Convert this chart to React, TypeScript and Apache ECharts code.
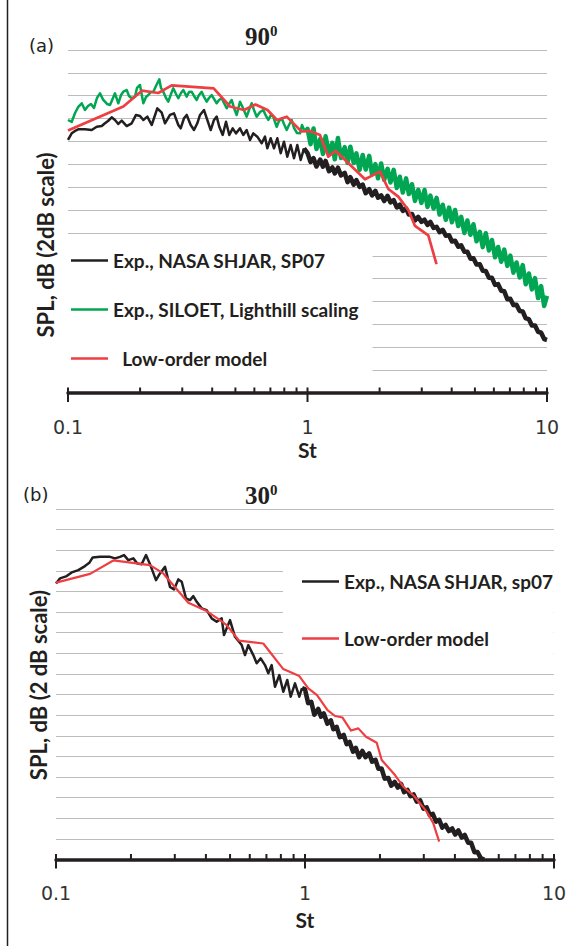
import React, { useEffect, useRef } from 'react';
import * as echarts from 'echarts';

// Strouhal sample positions used for the dense (high-St) parts of the spectra
const stGrid = [1.00, 1.03, 1.06, 1.09, 1.13, 1.16, 1.19, 1.23, 1.27, 1.30, 1.34, 1.38, 1.43, 1.47, 1.51, 1.56, 1.60, 1.65, 1.70, 1.75, 1.81, 1.86, 1.92, 1.97, 2.03, 2.09, 2.16, 2.22, 2.29, 2.36, 2.43, 2.50, 2.58, 2.65, 2.73, 2.81, 2.90, 2.99, 3.08, 3.17, 3.26, 3.36, 3.46, 3.56, 3.67, 3.78, 3.90, 4.01, 4.13, 4.26, 4.38, 4.52, 4.65, 4.79, 4.93, 5.08, 5.24, 5.39, 5.55, 5.72, 5.89, 6.07, 6.25, 6.44, 6.63, 6.83, 7.03, 7.24, 7.46, 7.69, 7.92, 8.15, 8.40, 8.65, 8.91, 9.18, 9.45, 9.73, 10.0];

// ---- Panel (a) 90 deg ----
const blackTopLow = [[0.1000, 22.13], [0.1036, 22.71], [0.1070, 22.92], [0.1104, 23.06], [0.1177, 23.06], [0.1256, 23.00], [0.1318, 23.29], [0.1383, 23.35], [0.1427, 23.59], [0.1469, 23.79], [0.1522, 24.11], [0.1571, 23.88], [0.1622, 23.53], [0.1676, 23.82], [0.1758, 23.35], [0.1845, 23.59], [0.1923, 24.32], [0.1998, 24.23], [0.2063, 23.88], [0.2144, 24.17], [0.2236, 23.44], [0.2360, 24.90], [0.2462, 24.52], [0.2541, 23.59], [0.2666, 24.32], [0.2771, 24.46], [0.2888, 23.44], [0.2955, 23.15], [0.3050, 24.03], [0.3131, 24.32], [0.3253, 23.44], [0.3358, 23.00], [0.3466, 23.59], [0.3558, 24.32], [0.3697, 24.75], [0.3816, 23.88], [0.3943, 23.00], [0.4070, 23.88], [0.4177, 24.17], [0.4283, 23.29], [0.4425, 22.57], [0.4568, 23.73], [0.4715, 22.57], [0.4871, 23.15], [0.5028, 22.71], [0.5225, 23.15], [0.5394, 22.57], [0.5573, 23.00], [0.5753, 22.13], [0.5938, 22.71], [0.6171, 22.42], [0.6438, 21.84], [0.6646, 22.42], [0.6794, 21.40], [0.7020, 22.28], [0.7246, 21.40], [0.7480, 22.28], [0.7729, 20.97], [0.7977, 21.98], [0.8234, 20.67], [0.8507, 21.69], [0.8782, 20.53], [0.9065, 21.69], [0.9367, 20.38], [0.9669, 21.40]];
const blackTopHi = [20.99, 20.21, 20.53, 19.81, 20.41, 19.80, 20.29, 19.40, 19.72, 19.20, 19.70, 19.04, 19.25, 18.44, 18.87, 18.22, 18.62, 18.03, 18.22, 17.48, 17.82, 17.29, 17.68, 17.08, 17.29, 16.79, 17.24, 16.68, 16.86, 16.23, 16.47, 15.93, 16.15, 15.61, 15.66, 15.09, 15.40, 14.97, 15.15, 14.70, 14.96, 14.44, 14.53, 14.07, 14.27, 13.76, 13.79, 13.25, 13.32, 12.80, 12.92, 12.35, 12.36, 11.75, 11.78, 11.24, 11.26, 10.70, 10.67, 10.09, 10.07, 9.46, 9.52, 8.95, 8.89, 8.20, 8.23, 7.69, 7.71, 7.17, 7.13, 6.53, 6.46, 5.91, 5.90, 5.36, 5.27, 4.72, 4.64];
const greenTopLow = [[0.1000, 23.88], [0.1036, 23.70], [0.1070, 24.49], [0.1104, 25.02], [0.1141, 25.34], [0.1177, 24.75], [0.1212, 25.10], [0.1247, 25.28], [0.1284, 24.93], [0.1321, 25.80], [0.1360, 26.21], [0.1404, 25.63], [0.1455, 25.28], [0.1498, 25.19], [0.1541, 25.80], [0.1571, 26.21], [0.1622, 25.34], [0.1665, 26.06], [0.1702, 26.35], [0.1758, 26.50], [0.1798, 25.98], [0.1845, 25.78], [0.1905, 25.92], [0.1941, 26.68], [0.1998, 26.94], [0.2063, 25.34], [0.2117, 25.89], [0.2164, 26.06], [0.2221, 26.33], [0.2271, 26.35], [0.2330, 26.85], [0.2406, 27.44], [0.2445, 26.68], [0.2500, 26.35], [0.2566, 25.80], [0.2623, 25.48], [0.2692, 26.15], [0.2752, 26.65], [0.2825, 26.15], [0.2888, 25.78], [0.2964, 26.24], [0.3030, 26.50], [0.3131, 25.92], [0.3201, 26.33], [0.3285, 26.35], [0.3358, 25.98], [0.3446, 25.63], [0.3523, 26.06], [0.3616, 26.35], [0.3697, 25.89], [0.3794, 25.48], [0.3879, 25.80], [0.3981, 26.06], [0.4070, 25.72], [0.4177, 25.34], [0.4271, 25.63], [0.4383, 25.78], [0.4481, 25.37], [0.4598, 24.90], [0.4701, 25.28], [0.4825, 25.63], [0.4932, 24.93], [0.5062, 24.32], [0.5225, 25.48], [0.5378, 24.93], [0.5573, 24.17], [0.5698, 24.75], [0.5847, 25.34], [0.5978, 24.75], [0.6135, 24.17], [0.6333, 24.58], [0.6538, 24.75], [0.6710, 24.23], [0.6860, 23.88], [0.7040, 24.32], [0.7198, 24.17], [0.7316, 23.70], [0.7437, 23.29], [0.7603, 23.79], [0.7803, 24.03], [0.7977, 23.53], [0.8187, 23.00], [0.8370, 23.44], [0.8590, 23.88], [0.8782, 23.18], [0.9039, 22.74], [0.9304, 22.71], [0.9484, 23.44], [0.9762, 22.83]];
const greenTopHi = [23.11, 21.77, 23.13, 21.34, 22.22, 20.91, 22.45, 20.96, 21.88, 20.44, 22.30, 20.56, 21.50, 20.12, 21.54, 20.11, 20.96, 19.53, 20.82, 19.54, 20.74, 19.12, 20.02, 18.78, 20.08, 18.65, 19.61, 18.41, 19.52, 17.93, 18.91, 17.54, 18.77, 17.40, 18.26, 16.80, 17.77, 16.63, 17.76, 16.27, 17.26, 16.13, 17.07, 15.61, 16.47, 15.14, 16.22, 14.93, 16.01, 14.61, 15.41, 14.00, 15.09, 13.84, 14.76, 13.27, 14.10, 12.76, 13.98, 12.47, 13.38, 11.87, 12.77, 11.48, 12.54, 11.12, 12.02, 10.52, 11.42, 10.10, 11.19, 9.51, 10.45, 9.06, 10.05, 8.30, 9.35, 7.61, 8.50];
const redTop = [[0.1000, 22.96], [0.1702, 25.06], [0.2037, 26.44], [0.2383, 26.24], [0.2710, 26.90], [0.4058, 26.65], [0.4747, 25.06], [0.5430, 24.75], [0.6065, 25.23], [0.6807, 24.75], [0.7458, 23.88], [0.8187, 24.17], [0.9439, 22.87], [1.0243, 22.92], [1.1276, 22.57], [1.2216, 20.67], [1.3091, 21.19], [1.7381, 18.69], [2.0078, 19.36], [2.1749, 17.84], [2.3934, 17.17], [2.6360, 16.01], [2.8106, 14.61], [3.1942, 13.78], [3.4560, 11.28]];

// ---- Panel (b) 30 deg ----
const blackBottomLow = [[0.1000, 26.78], [0.1038, 27.27], [0.1104, 27.49], [0.1156, 27.85], [0.1229, 28.07], [0.1307, 28.46], [0.1361, 28.78], [0.1404, 29.30], [0.1502, 29.36], [0.1648, 29.36], [0.1726, 29.21], [0.1807, 29.36], [0.1876, 29.53], [0.1952, 29.04], [0.2044, 29.21], [0.2121, 28.72], [0.2209, 28.65], [0.2299, 29.53], [0.2385, 28.65], [0.2521, 27.10], [0.2616, 27.75], [0.2740, 28.39], [0.2870, 26.45], [0.2978, 26.20], [0.3099, 27.17], [0.3198, 26.94], [0.3327, 25.33], [0.3453, 25.16], [0.3560, 25.55], [0.3674, 25.00], [0.3847, 24.36], [0.4028, 24.19], [0.4219, 23.39], [0.4418, 23.06], [0.4628, 23.39], [0.4728, 21.77], [0.4998, 23.22], [0.5234, 21.60], [0.5569, 20.80], [0.5741, 19.83], [0.5919, 20.80], [0.6199, 19.83], [0.6397, 19.03], [0.6638, 19.51], [0.6908, 18.86], [0.7122, 18.06], [0.7350, 18.86], [0.7577, 16.76], [0.7884, 17.89], [0.8181, 16.27], [0.8489, 17.41], [0.8760, 15.79], [0.9117, 17.09], [0.9486, 15.79], [0.9726, 16.63]];
const blackBottomHi = [16.50, 15.17, 15.28, 14.05, 14.60, 13.86, 14.17, 13.18, 13.49, 12.64, 12.86, 11.87, 12.08, 11.19, 11.40, 10.46, 10.82, 9.93, 10.53, 9.93, 10.29, 9.49, 9.66, 8.82, 8.83, 7.85, 7.91, 7.17, 7.52, 6.98, 7.33, 6.54, 6.75, 6.15, 6.31, 5.62, 5.73, 4.94, 5.05, 4.31, 4.42, 3.68, 3.84, 3.10, 3.35, 2.76, 3.01, 2.42, 2.82, 2.13, 2.38, 1.64, 1.61, 0.72, 0.73, 0.14, 0];
const redBottom = [[0.1000, 26.86], [0.1370, 27.71], [0.1699, 29.01], [0.2385, 28.56], [0.2697, 27.75], [0.3399, 24.90], [0.4028, 24.10], [0.4556, 23.22], [0.4847, 22.74], [0.5431, 21.24], [0.6800, 20.95], [0.8181, 18.47], [0.9486, 17.79], [1.0310, 16.60], [1.1173, 15.95], [1.2315, 14.50], [1.3199, 13.92], [1.4147, 13.77], [1.5302, 12.51], [1.6372, 12.72], [1.7579, 11.91], [1.9410, 11.33], [2.0326, 9.65], [2.2980, 8.19], [2.4818, 7.06], [2.7400, 6.16], [3.0816, 4.64], [3.2750, 3.51], [3.4587, 1.73]];

// axis ticks (St)
const majorTicks = [0.1, 1, 10];
const minorTicks = [0.2, 0.3, 0.4, 0.5, 0.6, 0.7, 0.8, 0.9, 2, 3, 4, 5, 6, 7, 8, 9];

const topNames = ['Exp., NASA SHJAR, SP07', 'Exp., SILOET, Lighthill scaling', 'Low-order model'];
const bottomNames = ['Exp., NASA SHJAR, sp07', 'Low-order model'];

const BLACK = '#231f20';
const GREEN = '#00a651';
const RED = '#ef3e42';

// dense part: starts at the last sparse point so the curve is continuous
function denseSeg(low: number[][], hi: number[]) {
  return [low[low.length - 1], ...hi.map((v, i) => [stGrid[i], v])];
}

function lineSeries(name: string, idx: number, data: number[][], color: string, width: number, z: number) {
  return {
    name, type: 'line', xAxisIndex: idx, yAxisIndex: idx, data, color,
    showSymbol: false, symbol: 'none', lineStyle: { width, color, join: 'round' }, z,
  };
}

function tickSeries(idx: number) {
  return {
    type: 'custom',
    xAxisIndex: idx,
    yAxisIndex: idx,
    clip: false,
    silent: true,
    z: 6,
    data: [...majorTicks.map((v) => [v, 1]), ...minorTicks.map((v) => [v, 0])],
    renderItem: (_p: any, api: any) => {
      const pt = api.coord([api.value(0), 0]);
      const major = api.value(1) === 1;
      return {
        type: 'line',
        shape: { x1: pt[0], y1: pt[1] - 5.5, x2: pt[0], y2: major ? pt[1] + 9 : pt[1] },
        style: { stroke: BLACK, lineWidth: 2 },
      };
    },
  };
}

const xAxisBase = {
  type: 'log',
  logBase: 10,
  min: 0.1,
  max: 10,
  axisLine: { show: true, lineStyle: { color: BLACK, width: 3.5 } },
  axisTick: { show: false },
  minorTick: { show: false },
  splitLine: { show: false },
  axisLabel: { color: '#333', fontFamily: 'DejaVu Sans', fontSize: 19, margin: 24, formatter: (v: number) => String(v) },
  name: 'St',
  nameLocation: 'middle',
  nameTextStyle: { color: BLACK, fontFamily: 'Lato', fontWeight: 'bold', fontSize: 21 },
};

const yAxisBase = {
  type: 'value',
  min: 0,
  interval: 2,
  axisLine: { show: false },
  axisTick: { show: false },
  axisLabel: { show: false },
  splitLine: { show: true, lineStyle: { color: '#bcbcbc', width: 1 } },
};

const legendText = { color: BLACK, fontFamily: 'Lato', fontWeight: 'bold', fontSize: 19, lineHeight: 16 };

const titleRich = {
  a: { fontFamily: 'Liberation Serif', fontWeight: 'bold', fontSize: 25, color: BLACK, lineHeight: 26 },
  b: { fontFamily: 'Liberation Serif', fontWeight: 'bold', fontSize: 15, color: BLACK, lineHeight: 15, verticalAlign: 'top' },
};

export default function App() {
  const ref = useRef<HTMLDivElement>(null);
  useEffect(() => {
    if (!ref.current) return;
    const chart = echarts.init(ref.current, undefined, { renderer: 'svg' });
    const option: any = {
      animation: false,
      backgroundColor: '#ffffff',
      title: [
        { text: '{a|90}{b|0}', left: 245, top: 23, padding: 0, textStyle: { fontSize: 25, fontWeight: 'bold', fontFamily: 'Liberation Serif', rich: titleRich } },
        { text: '{a|30}{b|0}', left: 245, top: 482, padding: 0, textStyle: { fontSize: 25, fontWeight: 'bold', fontFamily: 'Liberation Serif', rich: titleRich } },
      ],
      grid: [
        { left: 68, top: 50, width: 479, height: 343, outerBoundsMode: 'none', containLabel: false },
        { left: 56, top: 509, width: 498, height: 350.5, outerBoundsMode: 'none', containLabel: false },
      ],
      xAxis: [
        { ...xAxisBase, gridIndex: 0, nameGap: 46 },
        { ...xAxisBase, gridIndex: 1, nameGap: 49 },
      ],
      yAxis: [
        { ...yAxisBase, gridIndex: 0, max: 30 },
        { ...yAxisBase, gridIndex: 1, max: 34 },
      ],
      legend: [
        {
          data: topNames, orient: 'vertical', left: 68, top: 241, icon: 'rect', itemWidth: 37, itemHeight: 2.5,
          itemGap: 30, padding: [10, 14, 20, 3], backgroundColor: '#ffffff', selectedMode: false,
          textStyle: legendText,
          formatter: (n: string) => (n === 'Low-order model' ? '\u00a0\u00a0' + n : n),
        },
        {
          data: bottomNames, orient: 'vertical', left: 283, top: 560, icon: 'rect', itemWidth: 37, itemHeight: 2.5,
          itemGap: 38, padding: [12, 0, 16, 19], backgroundColor: '#ffffff', selectedMode: false,
          textStyle: legendText,
        },
      ],
      graphic: [
        { type: 'line', shape: { x1: 7.5, y1: 0, x2: 7.5, y2: 946 }, style: { stroke: BLACK, lineWidth: 1.5 }, silent: true },
        { type: 'text', x: 29, y: 45, style: { text: '(a)', font: '18px "DejaVu Sans"', fill: '#222', verticalAlign: 'middle' } },
        { type: 'text', x: 23, y: 494, style: { text: '(b)', font: '18px "DejaVu Sans"', fill: '#222', verticalAlign: 'middle' } },
        { type: 'text', x: 45, y: 245, rotation: Math.PI / 2, style: { text: 'SPL, dB (2dB scale)', font: 'bold 22px Lato', fill: BLACK, align: 'center', verticalAlign: 'middle' } },
        { type: 'text', x: 38, y: 685, rotation: Math.PI / 2, style: { text: 'SPL, dB (2 dB scale)', font: 'bold 22px Lato', fill: BLACK, align: 'center', verticalAlign: 'middle' } },
      ],
      series: [
        lineSeries(topNames[1], 0, greenTopLow, GREEN, 2.5, 2),
        lineSeries(topNames[1], 0, denseSeg(greenTopLow, greenTopHi), GREEN, 4.5, 2),
        lineSeries(topNames[0], 0, blackTopLow, BLACK, 2.5, 3),
        lineSeries(topNames[0], 0, denseSeg(blackTopLow, blackTopHi), BLACK, 4.6, 3),
        lineSeries(topNames[2], 0, redTop, RED, 2.7, 4),
        lineSeries(bottomNames[0], 1, blackBottomLow, BLACK, 2.5, 3),
        lineSeries(bottomNames[0], 1, denseSeg(blackBottomLow, blackBottomHi), BLACK, 4.6, 3),
        lineSeries(bottomNames[1], 1, redBottom, RED, 2.2, 4),
        tickSeries(0),
        tickSeries(1),
      ],
    };
    chart.setOption(option);
    return () => chart.dispose();
  }, []);
  return <div ref={ref} style={{ position: 'fixed', left: 0, top: 0, width: 573, height: 946, background: '#fff' }} />;
}
